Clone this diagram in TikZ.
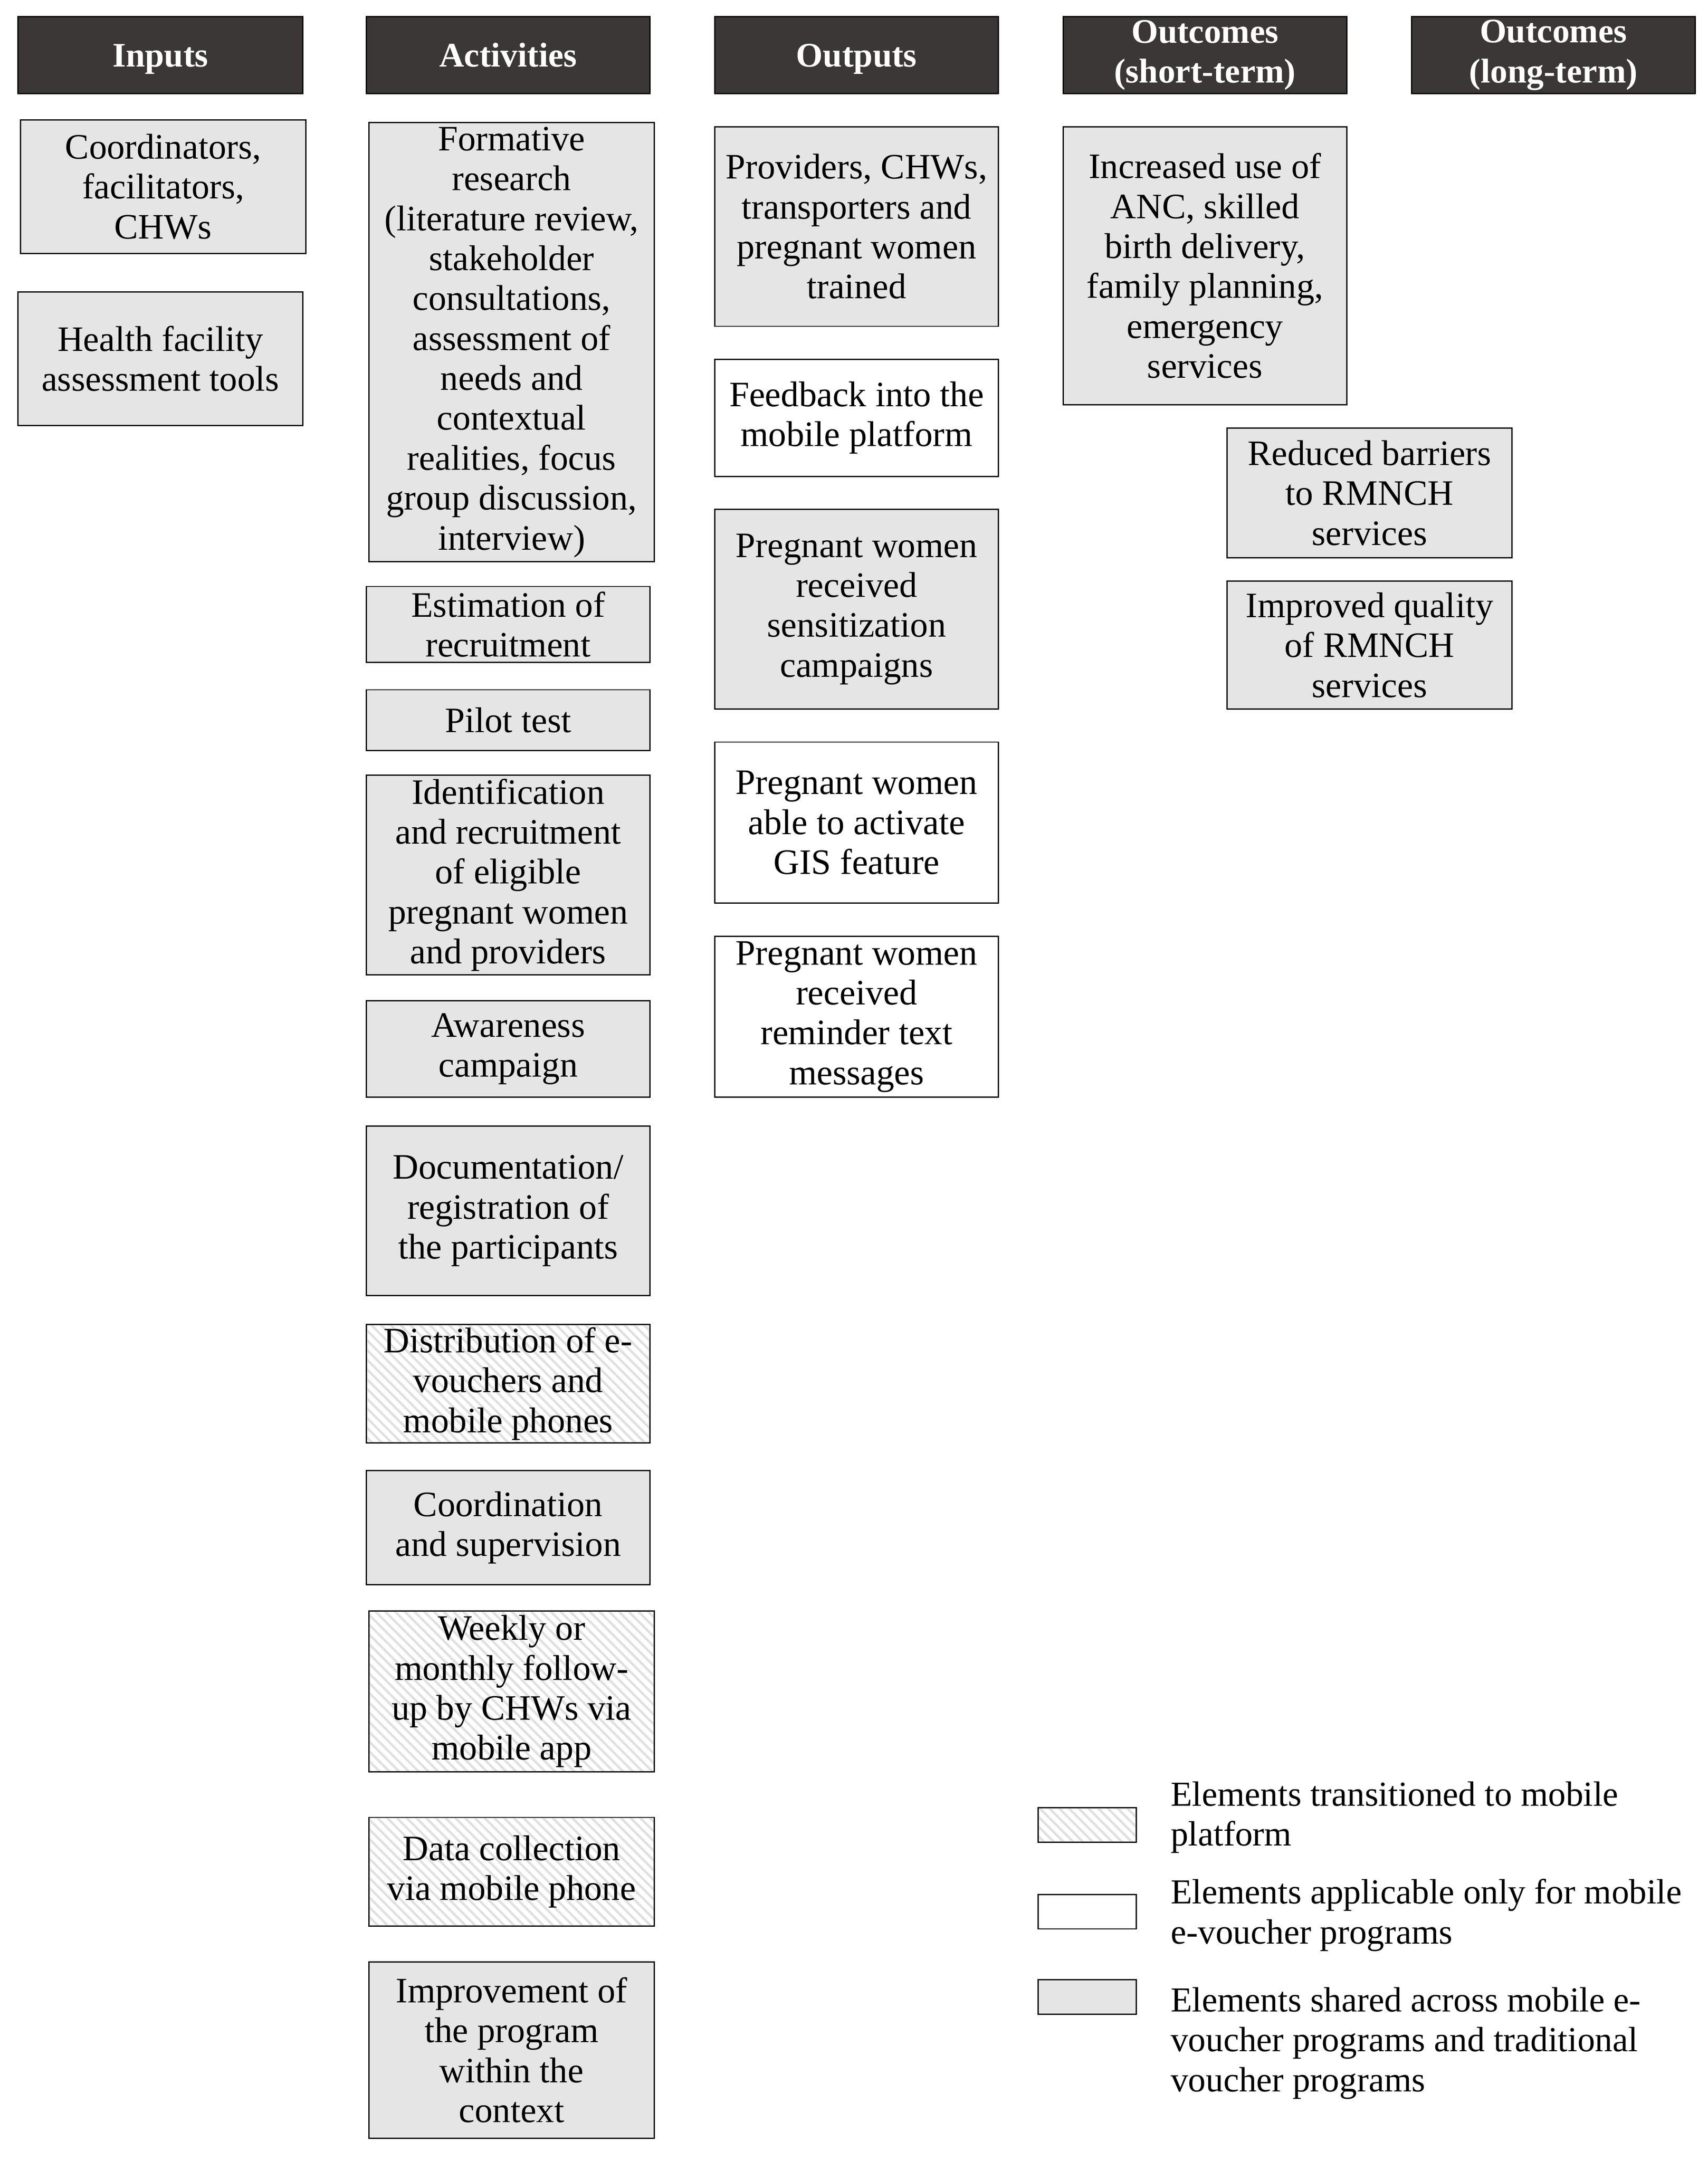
\documentclass[tikz,border=0pt]{standalone}
\usepackage{fontspec}
\setmainfont{Liberation Serif}
\usetikzlibrary{patterns.meta}
\definecolor{hdrgray}{HTML}{3B3737}
\definecolor{boxgray}{HTML}{E6E5E6}
\definecolor{hatchgray}{HTML}{E0E0E0}
\tikzset{
  base/.style={draw=black, line width=0.9pt, inner sep=0pt, align=center,
    font=\fontsize{26}{29}\selectfont},
  hdr/.style={base, fill=hdrgray, text=white, font=\bfseries\fontsize{25}{29}\selectfont},
  hdrone/.style={hdr, text height=20pt, text depth=3pt},
  shared/.style={base, fill=boxgray},
  mobonly/.style={base, fill=white},
  hatched/.style={base, preaction={fill=white},
    pattern={Lines[angle=-45, distance=5pt, line width=1.7pt]}, pattern color=hatchgray},
  legtext/.style={anchor=west, align=left, inner sep=0pt, font=\fontsize{25.5}{29}\selectfont}
}
\newcommand{\bx}[7]{\node[#6, minimum width={#4-#2}, minimum height={#5-#3}] (#1) at ({(#2+#4)/2},{(#3+#5)/2}) {#7};}
\begin{document}
\begin{tikzpicture}[x=1pt,y=-1pt]
\path[use as bounding box] (0,0) rectangle (1240,1569.6);
% headers
\bx{hIn}{13}{12}{220}{68}{hdrone}{Inputs}
\bx{hAct}{266}{12}{472}{68}{hdrone}{Activities}
\bx{hOut}{519}{12}{725}{68}{hdrone}{Outputs}
\bx{hOcS}{772}{12}{978}{68}{hdr}{Outcomes\\(short-term)}
\bx{hOcL}{1025}{12}{1231}{68}{hdr}{Outcomes\\(long-term)}
% inputs
\bx{in1}{15}{87}{222}{184}{shared}{Coordinators,\\facilitators,\\CHWs}
\bx{in2}{13}{212}{220}{309}{shared}{Health facility\\assessment tools}
% activities
\bx{a1}{268}{89}{475}{408}{shared}{Formative\\research\\(literature review,\\stakeholder\\consultations,\\assessment of\\needs and\\contextual\\realities, focus\\group discussion,\\interview)}
\bx{a2}{266}{426}{472}{481}{shared}{Estimation of\\recruitment}
\bx{a3}{266}{501}{472}{545}{shared}{Pilot test}
\bx{a4}{266}{563}{472}{708}{shared}{Identification\\and recruitment\\of eligible\\pregnant women\\and providers}
\bx{a5}{266}{727}{472}{797}{shared}{Awareness\\campaign}
\bx{a6}{266}{818}{472}{941}{shared}{Documentation/\\registration of\\the participants}
\bx{a7}{266}{962}{472}{1048}{hatched}{Distribution of e-\\vouchers and\\mobile phones}
\bx{a8}{266}{1068}{472}{1151}{shared}{Coordination\\and supervision}
\bx{a9}{268}{1170}{475}{1287}{hatched}{Weekly or\\monthly follow-\\up by CHWs via\\mobile app}
\bx{a10}{268}{1320}{475}{1399}{hatched}{Data collection\\via mobile phone}
\bx{a11}{268}{1425}{475}{1553}{shared}{Improvement of\\the program\\within the\\context}
% outputs
\bx{o1}{519}{92}{725}{237}{shared}{Providers, CHWs,\\transporters and\\pregnant women\\trained}
\bx{o2}{519}{261}{725}{346}{mobonly}{Feedback into the\\mobile platform}
\bx{o3}{519}{370}{725}{515}{shared}{Pregnant women\\received\\sensitization\\campaigns}
\bx{o4}{519}{539}{725}{656}{mobonly}{Pregnant women\\able to activate\\GIS feature}
\bx{o5}{519}{680}{725}{797}{mobonly}{Pregnant women\\received\\reminder text\\messages}
% outcomes short-term
\bx{s1}{772}{92}{978}{294}{shared}{Increased use of\\ANC, skilled\\birth delivery,\\family planning,\\emergency\\services}
\bx{s2}{891}{311}{1098}{405}{shared}{Reduced barriers\\to RMNCH\\services}
\bx{s3}{891}{422}{1098}{515}{shared}{Improved quality\\of RMNCH\\services}
% legend
\bx{k1}{754}{1313}{825}{1338}{hatched}{}
\bx{k2}{754}{1376}{825}{1401}{mobonly}{}
\bx{k3}{754}{1438}{825}{1463}{shared}{}
\node[legtext] (t1) at (850,1320) {Elements transitioned to mobile\\platform};
\node[legtext] (t2) at (850,1391) {Elements applicable only for mobile\\e-voucher programs};
\node[legtext] (t3) at (850,1484) {Elements shared across mobile e-\\voucher programs and traditional\\voucher programs};
\end{tikzpicture}
\end{document}
